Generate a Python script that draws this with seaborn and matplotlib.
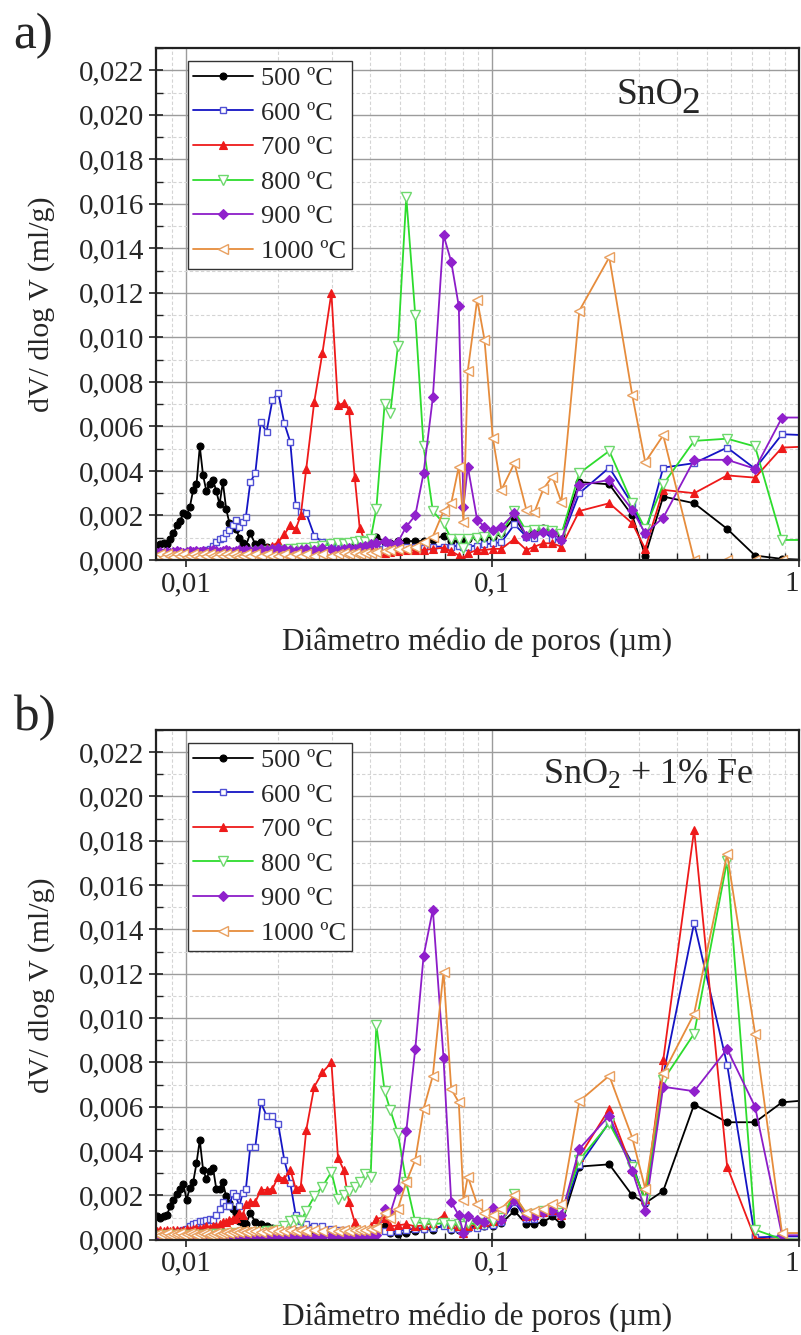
import numpy as np
import matplotlib
matplotlib.use("Agg")
import matplotlib.pyplot as plt
from matplotlib.ticker import FixedLocator, LogLocator, MultipleLocator, FuncFormatter, NullFormatter
import seaborn as sns

sns.set_theme(style="white")
plt.rcParams["font.family"] = ["Liberation Serif", "DejaVu Serif"]
plt.rcParams["mathtext.fontset"] = "custom"
plt.rcParams["mathtext.rm"] = "Liberation Serif"
plt.rcParams["mathtext.it"] = "Liberation Serif:italic"

# mean pore diameter (µm), shared intrusion table
diam = [0.008044, 0.008246, 0.008453, 0.008665, 0.008884, 0.009106, 0.009334, 0.009567, 0.009807, 0.010053,
        0.010305, 0.010563, 0.010828, 0.011099, 0.011377, 0.011662, 0.011955, 0.012254, 0.012561, 0.012876,
        0.013198, 0.013529, 0.013868, 0.014215, 0.014571, 0.014936, 0.015310, 0.015694, 0.016223, 0.016843,
        0.017553, 0.018320, 0.019163, 0.020012, 0.020937, 0.021901, 0.022823, 0.023695, 0.024694, 0.026219,
        0.027881, 0.029827, 0.031341, 0.032710, 0.034036, 0.035524, 0.036883, 0.038438, 0.040055, 0.041804,
        0.044483, 0.046428, 0.049150, 0.052348, 0.055999, 0.059606, 0.063903, 0.069242, 0.073360, 0.077664,
        0.080447, 0.083084, 0.089163, 0.094185, 0.10023, 0.10698, 0.11793, 0.12902, 0.13700, 0.14661,
        0.15685, 0.16781, 0.19205, 0.24050, 0.28580, 0.31500, 0.36060, 0.45497, 0.58288, 0.71886,
        0.88034, 1.0779]

labels = ["500 ºC", "600 ºC", "700 ºC", "800 ºC", "900 ºC", "1000 ºC"]

# dV/dlogV in 10^-3 ml/g -- (a) SnO2
a_500 = [0.65, 0.70, 0.75, 0.72, 0.95, 1.20, 1.55, 1.75, 2.10, 2.00,
         2.40, 3.15, 3.40, 5.10, 3.80, 3.10, 3.40, 3.60, 3.10, 2.50,
         3.50, 2.30, 1.65, 1.60, 1.40, 1.00, 0.75, 0.65, 1.20, 0.70,
         0.80, 0.60, 0.55, 0.50, 0.50, 0.45, 0.50, 0.45, 0.45, 0.50,
         0.45, 0.55, 0.50, 0.60, 0.55, 0.65, 0.70, 0.70, 0.75, 1.05,
         0.80, 0.75, 0.85, 0.85, 0.85, 0.85, 0.90, 1.10, 0.85, 0.85,
         0.90, 0.95, 1.05, 1.00, 1.05, 1.20, 1.90, 1.10, 1.30, 1.45,
         1.30, 1.15, 3.50, 3.40, 2.00, 0.20, 2.85, 2.55, 1.40, 0.20,
         0.05, 0.00]
a_600 = [0.25, 0.25, 0.25, 0.30, 0.25, 0.30, 0.30, 0.30, 0.30, 0.30,
         0.35, 0.35, 0.35, 0.40, 0.40, 0.45, 0.50, 0.65, 0.83, 0.95,
         1.00, 1.20, 1.35, 1.55, 1.80, 1.50, 1.70, 1.95, 3.50, 3.90,
         6.20, 5.75, 7.20, 7.50, 6.15, 5.30, 2.45, 2.15, 2.10, 1.10,
         0.80, 0.70, 0.60, 0.55, 0.55, 0.50, 0.55, 0.55, 0.60, 0.60,
         0.55, 0.55, 0.60, 0.60, 0.60, 0.55, 0.60, 0.60, 0.60, 0.65,
         0.60, 0.60, 0.65, 0.70, 0.75, 0.80, 1.60, 1.05, 1.00, 1.30,
         0.95, 0.90, 3.00, 4.15, 2.50, 1.15, 4.15, 4.35, 5.05, 4.10,
         5.65, 5.60]
a_700 = [0.15, 0.20, 0.15, 0.20, 0.15, 0.20, 0.20, 0.15, 0.20, 0.20,
         0.15, 0.20, 0.20, 0.25, 0.20, 0.20, 0.25, 0.20, 0.25, 0.25,
         0.25, 0.30, 0.25, 0.30, 0.30, 0.25, 0.30, 0.35, 0.35, 0.40,
         0.45, 0.55, 0.65, 0.80, 1.15, 1.55, 1.40, 2.00, 4.10, 7.10,
         9.30, 12.00, 6.95, 7.05, 6.75, 3.75, 1.45, 0.80, 0.55, 0.40,
         0.30, 0.35, 0.40, 0.45, 0.45, 0.45, 0.50, 0.55, 0.40, 0.20,
         0.05, 0.30, 0.45, 0.45, 0.50, 0.50, 0.95, 0.45, 0.60, 0.75,
         0.75, 0.60, 2.20, 2.55, 1.65, 0.50, 3.15, 3.00, 3.80, 3.70,
         5.05, 5.10]
a_800 = [0.15, 0.15, 0.20, 0.15, 0.15, 0.20, 0.15, 0.20, 0.15, 0.20,
         0.20, 0.15, 0.20, 0.20, 0.15, 0.20, 0.20, 0.25, 0.20, 0.20,
         0.25, 0.20, 0.25, 0.25, 0.30, 0.25, 0.30, 0.30, 0.30, 0.35,
         0.35, 0.40, 0.40, 0.40, 0.45, 0.50, 0.50, 0.55, 0.55, 0.60,
         0.65, 0.70, 0.75, 0.70, 0.75, 0.80, 0.85, 0.80, 0.95, 2.30,
         7.00, 6.60, 9.60, 16.30, 11.00, 5.10, 2.20, 1.65, 0.95, 0.95,
         0.55, 0.95, 1.00, 1.05, 1.10, 1.20, 2.20, 1.30, 1.35, 1.35,
         1.30, 1.15, 3.90, 4.90, 2.55, 1.40, 3.40, 5.35, 5.45, 5.10,
         0.90, 0.90]
a_900 = [0.30, 0.35, 0.30, 0.35, 0.30, 0.35, 0.40, 0.35, 0.30, 0.35,
         0.40, 0.35, 0.40, 0.35, 0.40, 0.35, 0.40, 0.45, 0.40, 0.35,
         0.40, 0.45, 0.40, 0.35, 0.40, 0.45, 0.40, 0.45, 0.40, 0.45,
         0.50, 0.45, 0.50, 0.55, 0.50, 0.45, 0.40, 0.45, 0.50, 0.45,
         0.55, 0.50, 0.45, 0.50, 0.55, 0.50, 0.60, 0.65, 0.70, 0.75,
         0.85, 0.70, 0.80, 1.50, 2.00, 3.90, 7.30, 14.60, 13.40, 11.40,
         2.40, 4.20, 1.80, 1.50, 1.35, 1.50, 2.10, 1.10, 1.15, 1.25,
         1.20, 0.90, 3.35, 3.60, 2.25, 1.20, 1.90, 4.50, 4.50, 4.10,
         6.40, 6.40]
a_1000 = [0.20, 0.25, 0.15, 0.25, 0.20, 0.15, 0.25, 0.20, 0.25, 0.15,
          0.20, 0.25, 0.20, 0.15, 0.25, 0.20, 0.25, 0.20, 0.15, 0.25,
          0.20, 0.25, 0.20, 0.25, 0.20, 0.15, 0.20, 0.25, 0.20, 0.25,
          0.20, 0.25, 0.20, 0.20, 0.25, 0.20, 0.25, 0.20, 0.25, 0.20,
          0.25, 0.20, 0.25, 0.30, 0.25, 0.30, 0.25, 0.30, 0.30, 0.35,
          0.40, 0.45, 0.50, 0.50, 0.60, 0.80, 1.05, 2.20, 2.55, 4.20,
          1.70, 8.50, 11.70, 9.90, 5.50, 3.15, 4.35, 2.25, 2.15, 3.20,
          3.75, 2.60, 11.20, 13.60, 7.40, 4.40, 5.60, 0.00, 0.00, 0.00,
          0.00, 0.00]

# dV/dlogV in 10^-3 ml/g -- (b) SnO2 + 1% Fe
b_500 = [1.05, 1.00, 1.05, 1.10, 1.50, 1.80, 2.05, 2.30, 2.50, 1.80,
         2.35, 2.60, 3.45, 4.50, 3.15, 2.75, 3.10, 3.25, 2.30, 2.30,
         2.60, 1.95, 1.65, 1.40, 1.20, 0.85, 0.75, 0.70, 1.20, 0.80,
         0.70, 0.60, 0.55, 0.50, 0.45, 0.45, 0.40, 0.45, 0.40, 0.45,
         0.40, 0.45, 0.40, 0.35, 0.35, 0.40, 0.40, 0.35, 0.40, 0.45,
         0.60, 0.30, 0.25, 0.30, 0.40, 0.50, 0.45, 0.65, 0.45, 0.45,
         0.50, 0.55, 0.60, 0.60, 0.60, 0.75, 1.30, 0.70, 0.70, 0.80,
         1.05, 0.70, 3.30, 3.40, 2.00, 1.65, 2.20, 6.10, 5.30, 5.30,
         6.20, 6.30]
b_600 = [0.25, 0.25, 0.30, 0.30, 0.30, 0.35, 0.35, 0.40, 0.45, 0.50,
         0.60, 0.70, 0.75, 0.85, 0.85, 0.90, 0.95, 0.90, 1.10, 1.40,
         1.70, 1.50, 1.50, 2.10, 1.95, 1.50, 2.10, 2.30, 4.20, 4.20,
         6.20, 5.60, 5.60, 5.20, 3.60, 2.55, 1.10, 0.85, 0.70, 0.60,
         0.60, 0.50, 0.45, 0.45, 0.40, 0.40, 0.35, 0.40, 0.35, 0.40,
         0.40, 0.35, 0.40, 0.45, 0.50, 0.50, 0.55, 0.60, 0.50, 0.50,
         0.45, 0.55, 0.55, 0.60, 0.65, 0.80, 1.70, 0.95, 0.95, 1.20,
         1.25, 1.05, 3.35, 5.30, 3.45, 1.70, 7.40, 14.30, 7.90, 0.10,
         0.15, 0.15]
b_700 = [0.40, 0.45, 0.40, 0.45, 0.40, 0.45, 0.45, 0.40, 0.45, 0.50,
         0.45, 0.50, 0.55, 0.50, 0.55, 0.60, 0.55, 0.60, 0.60, 0.70,
         0.80, 0.80, 0.90, 0.95, 1.00, 1.20, 1.10, 1.60, 1.70, 1.70,
         2.25, 2.25, 2.30, 2.85, 2.75, 3.15, 2.30, 2.40, 4.95, 6.90,
         7.55, 8.00, 3.70, 3.15, 1.70, 0.80, 0.40, 0.35, 0.60, 0.95,
         1.00, 0.60, 0.65, 0.70, 0.60, 0.65, 0.75, 1.10, 0.70, 0.60,
         0.30, 0.60, 0.70, 0.80, 0.85, 1.00, 1.95, 1.05, 1.10, 1.25,
         1.35, 1.10, 3.75, 5.90, 3.20, 1.85, 8.10, 18.50, 3.30, 0.05,
         0.00, 0.00]
b_800 = [0.15, 0.15, 0.20, 0.15, 0.15, 0.20, 0.15, 0.20, 0.20, 0.15,
         0.20, 0.20, 0.15, 0.20, 0.20, 0.20, 0.25, 0.20, 0.25, 0.25,
         0.25, 0.20, 0.25, 0.25, 0.30, 0.25, 0.30, 0.30, 0.25, 0.30,
         0.35, 0.40, 0.40, 0.45, 0.60, 0.85, 0.90, 0.85, 1.30, 1.95,
         2.40, 3.05, 1.85, 2.00, 2.20, 2.40, 2.60, 2.95, 2.85, 9.70,
         6.70, 5.85, 4.80, 2.60, 0.80, 0.75, 0.70, 0.75, 0.65, 0.70,
         0.60, 0.75, 0.70, 0.75, 0.85, 1.00, 2.05, 1.10, 1.15, 1.30,
         1.40, 1.20, 3.60, 5.25, 3.30, 1.80, 7.20, 9.30, 17.10, 0.45,
         0.02, 0.00]
b_900 = [0.12, 0.18, 0.10, 0.15, 0.12, 0.16, 0.10, 0.14, 0.12, 0.17,
         0.10, 0.15, 0.12, 0.18, 0.10, 0.14, 0.11, 0.16, 0.12, 0.15,
         0.10, 0.16, 0.12, 0.14, 0.10, 0.17, 0.12, 0.15, 0.11, 0.16,
         0.10, 0.14, 0.12, 0.18, 0.10, 0.15, 0.12, 0.16, 0.10, 0.14,
         0.12, 0.17, 0.10, 0.15, 0.12, 0.16, 0.11, 0.15, 0.15, 0.20,
         1.40, 1.20, 2.30, 4.90, 8.60, 12.80, 14.90, 8.20, 1.70, 1.10,
         0.30, 1.05, 0.90, 0.80, 1.45, 0.90, 1.80, 1.05, 1.05, 1.25,
         1.35, 1.10, 4.10, 5.60, 3.10, 1.30, 6.90, 6.70, 8.60, 6.00,
         0.20, 0.20]
b_1000 = [0.25, 0.20, 0.25, 0.30, 0.20, 0.25, 0.25, 0.30, 0.20, 0.25,
          0.30, 0.25, 0.20, 0.25, 0.30, 0.25, 0.20, 0.25, 0.30, 0.25,
          0.30, 0.35, 0.30, 0.35, 0.40, 0.35, 0.40, 0.35, 0.40, 0.40,
          0.35, 0.40, 0.45, 0.40, 0.40, 0.45, 0.40, 0.45, 0.40, 0.45,
          0.40, 0.45, 0.40, 0.45, 0.40, 0.45, 0.45, 0.45, 0.50, 0.55,
          1.20, 1.00, 1.40, 2.60, 3.60, 5.90, 7.40, 12.10, 6.80, 6.20,
          1.80, 2.85, 1.60, 1.20, 1.10, 1.40, 2.00, 1.20, 1.30, 1.40,
          1.60, 1.60, 6.25, 7.40, 4.60, 2.30, 7.50, 10.20, 17.40, 9.30,
          0.30, 0.30]

styles = [
    dict(color="#000000", marker="o", markersize=5.0, markerfacecolor="#000000",
         markeredgecolor="#000000", markeredgewidth=0.8),
    dict(color="#1414c4", marker="s", markersize=5.0, markerfacecolor="white",
         markeredgecolor="#5050d4", markeredgewidth=1.0),
    dict(color="#ee1a1a", marker="^", markersize=6.0, markerfacecolor="#ee1a1a",
         markeredgecolor="#ee1a1a", markeredgewidth=0.8),
    dict(color="#2ddc2d", marker="v", markersize=6.5, markerfacecolor="white",
         markeredgecolor="#6ed86e", markeredgewidth=1.0),
    dict(color="#8c1cc8", marker="D", markersize=5.0, markerfacecolor="#9020cc",
         markeredgecolor="#9020cc", markeredgewidth=0.8),
    dict(color="#e68c3c", marker="<", markersize=6.5, markerfacecolor="white",
         markeredgecolor="#e9a060", markeredgewidth=1.0),
]

FIG_W, FIG_H = 801, 1335
fig = plt.figure(figsize=(FIG_W / 100, FIG_H / 100), dpi=100)
fig.patch.set_facecolor("white")

ax_a = fig.add_axes([155.7 / FIG_W, 1 - 560 / FIG_H, 643.3 / FIG_W, 512 / FIG_H])
ax_b = fig.add_axes([155.7 / FIG_W, 1 - 1239.7 / FIG_H, 643.3 / FIG_W, 509.7 / FIG_H])

comma = FuncFormatter(lambda v, p: f"{v:.3f}".replace(".", ","))


def draw_panel(ax, series, xlabel_y):
    ax.set_xscale("log")
    ax.set_facecolor("white")
    for vals, lab, st in zip(series, labels, styles):
        sns.lineplot(x=diam, y=np.asarray(vals) * 1e-3, ax=ax, label=lab,
                     estimator=None, sort=False, linewidth=1.3, **st)
    ax.set_xlim(0.00797, 1.0)
    ax.set_ylim(0, 0.0230)

    ax.xaxis.set_major_locator(FixedLocator([0.01, 0.1, 1.0]))
    ax.xaxis.set_major_formatter(FuncFormatter(lambda v, p: {0.01: "0,01", 0.1: "0,1", 1.0: "1"}.get(round(v, 3), "")))
    ax.xaxis.set_minor_locator(LogLocator(base=10, subs=np.arange(2, 10)))
    ax.xaxis.set_minor_formatter(NullFormatter())
    ax.yaxis.set_major_locator(MultipleLocator(0.002))
    ax.yaxis.set_minor_locator(MultipleLocator(0.001))
    ax.yaxis.set_major_formatter(comma)

    ax.grid(which="major", color="#9c9c9c", linewidth=1.0, linestyle="-")
    ax.grid(which="minor", color="#d4d4d4", linewidth=0.8, linestyle=(0, (3, 2)))
    ax.set_axisbelow(True)

    ax.tick_params(which="major", direction="inout", length=10, width=1.2, color="#222222",
                   labelsize=21, pad=3, left=True, bottom=True, top=False, right=False)
    ax.tick_params(which="minor", direction="in", length=5, width=1.0, color="#222222",
                   left=True, bottom=True, top=False, right=False)
    for sp in ax.spines.values():
        sp.set_color("#222222")
        sp.set_linewidth(1.6)

    # keep the "1" at the right edge inside the canvas
    fig.canvas.draw()
    xt = ax.get_xticklabels()
    if xt:
        xt[-1].set_horizontalalignment("right")

    ax.set_ylabel("dV/ dlog V (ml/g)", fontsize=21.5)
    ax.yaxis.set_label_coords(-0.1565, 0.5)
    ax.set_xlabel("Diâmetro médio de poros (µm)", fontsize=22.5)
    ax.xaxis.set_label_coords(0.5, xlabel_y)
    ax.xaxis.label.set_verticalalignment("baseline")

    leg = ax.legend(loc="upper left", bbox_to_anchor=(0.0497, 0.975), borderaxespad=0,
                    frameon=True, fancybox=False, framealpha=1, edgecolor="#333333",
                    fontsize=19, handlelength=2.25, handletextpad=0.3, labelspacing=0.42,
                    borderpad=0.22, numpoints=1)
    leg.get_frame().set_linewidth(1.0)


draw_panel(ax_a, [a_500, a_600, a_700, a_800, a_900, a_1000], -0.1758)
draw_panel(ax_b, [b_500, b_600, b_700, b_800, b_900, b_1000], -0.1674)

# sample labels
t_a = ax_a.text(0.7166, 0.8906, "SnO", transform=ax_a.transAxes, fontsize=27, va="baseline", ha="left")
ax_a.annotate("2", xy=(1, 0), xycoords=t_a, xytext=(-1.5, -0.5), textcoords="offset points",
              fontsize=27, va="baseline", ha="left")
ax_b.text(0.6025, 0.8935, r"SnO$_2$ + 1% Fe", transform=ax_b.transAxes, fontsize=26,
          va="baseline", ha="left")

fig.text(13 / FIG_W, 1 - 48 / FIG_H, "a)", fontsize=37, va="baseline", ha="left")
fig.text(13 / FIG_W, 1 - 730 / FIG_H, "b)", fontsize=37, va="baseline", ha="left")

fig.savefig("out.png", dpi=100, facecolor="white")
